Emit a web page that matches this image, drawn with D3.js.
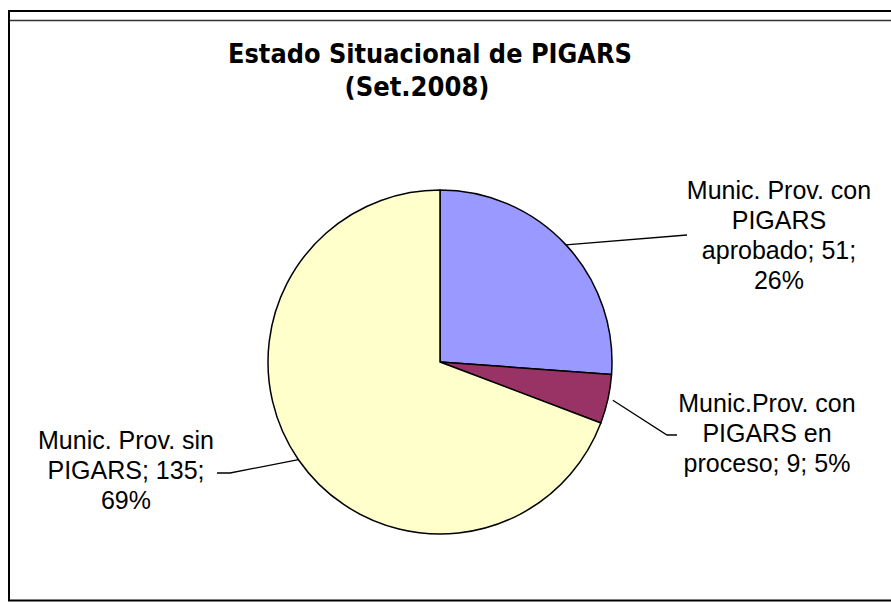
<!DOCTYPE html>
<html>
<head>
<meta charset="utf-8">
<script src="https://cdnjs.cloudflare.com/ajax/libs/d3/7.8.5/d3.min.js"></script>
<style>
  body { margin: 0; background: #fff; }
  svg { display: block; }
</style>
</head>
<body>
<svg id="chart" width="891" height="602"></svg>
<script>
var titleLines = ["Estado Situacional de PIGARS", "(Set.2008)"];
var categories = ["Munic. Prov. con PIGARS aprobado", "Munic.Prov. con PIGARS en proceso", "Munic. Prov. sin PIGARS"];
var values = [51, 9, 135];
var sliceColors = ["#9999FF", "#993366", "#FFFFCC"];

var formatPerc = d3.format(".0%");
var total = d3.sum(values);

var width = 891, height = 602;
var cx = 440, cy = 362, radius = 172;

var svg = d3.select("#chart");

// frame
svg.append("rect")
  .attr("x", 9).attr("y", 11)
  .attr("width", 900).attr("height", 589.5)
  .attr("fill", "none")
  .attr("stroke", "#000")
  .attr("stroke-width", 2);
svg.append("line")
  .attr("x1", 10).attr("x2", width)
  .attr("y1", 20.5).attr("y2", 20.5)
  .attr("stroke", "#333")
  .attr("stroke-width", 1.5);

// title
var titleX = [430, 417];
var titleY = [63, 96];
var titleW = [404, 145];
svg.selectAll("text.title")
  .data(titleLines)
  .enter().append("text")
  .attr("class", "title")
  .attr("x", function(d, i){ return titleX[i]; })
  .attr("y", function(d, i){ return titleY[i]; })
  .attr("text-anchor", "middle")
  .attr("textLength", function(d, i){ return titleW[i]; })
  .attr("lengthAdjust", "spacingAndGlyphs")
  .style("font-family", "Tahoma, 'DejaVu Sans', sans-serif")
  .style("font-weight", "bold")
  .style("font-size", "26px")
  .text(function(d){ return d; });

// pie
var pie = d3.pie().sort(null).value(function(d){ return d; });
var arcs = pie(values);
var arc = d3.arc().innerRadius(0).outerRadius(radius);

var g = svg.append("g").attr("transform", "translate(" + cx + "," + cy + ")");
g.selectAll("path")
  .data(arcs)
  .enter().append("path")
  .attr("d", arc)
  .attr("fill", function(d, i){ return sliceColors[i]; })
  .attr("stroke", "#000")
  .attr("stroke-width", 1.5)
  .attr("stroke-linejoin", "round");

// labels and leader lines
var labelX = [779, 767, 126];
var labelY = [199, 412, 449];
var labelWrap = [206, 201, 196];
var lineGap = 30;
var leaderOffset = [0, 5, 0];
var leaderEnd = [
  [[687, 235]],
  [[667, 435], [677, 435]],
  [[230, 473], [217, 473]]
];

arcs.forEach(function(a, i){
  var mid = (a.startAngle + a.endAngle) / 2;
  var r0 = radius + leaderOffset[i];
  var start = [cx + r0 * Math.sin(mid), cy - r0 * Math.cos(mid)];
  var pts = [start].concat(leaderEnd[i]);
  svg.append("path")
    .attr("d", d3.line()(pts))
    .attr("fill", "none")
    .attr("stroke", "#000")
    .attr("stroke-width", 1.3);

  var labelText = categories[i] + "; " + values[i] + "; " + formatPerc(values[i] / total);
  var words = labelText.split(" ");
  var t = svg.append("text")
    .attr("text-anchor", "middle")
    .style("font-family", "'Liberation Sans', Arial, sans-serif")
    .style("font-size", "25px")
    .attr("fill", "#000");
  var lines = [];
  var current = "";
  var probe = t.append("tspan");
  words.forEach(function(w){
    var test = current ? current + " " + w : w;
    probe.text(test);
    if (current && probe.node().getComputedTextLength() > labelWrap[i]) {
      lines.push(current);
      current = w;
    } else {
      current = test;
    }
  });
  lines.push(current);
  probe.remove();
  lines.forEach(function(line, j){
    t.append("tspan")
      .attr("x", labelX[i])
      .attr("y", labelY[i] + j * lineGap)
      .text(line);
  });
});
</script>
</body>
</html>
